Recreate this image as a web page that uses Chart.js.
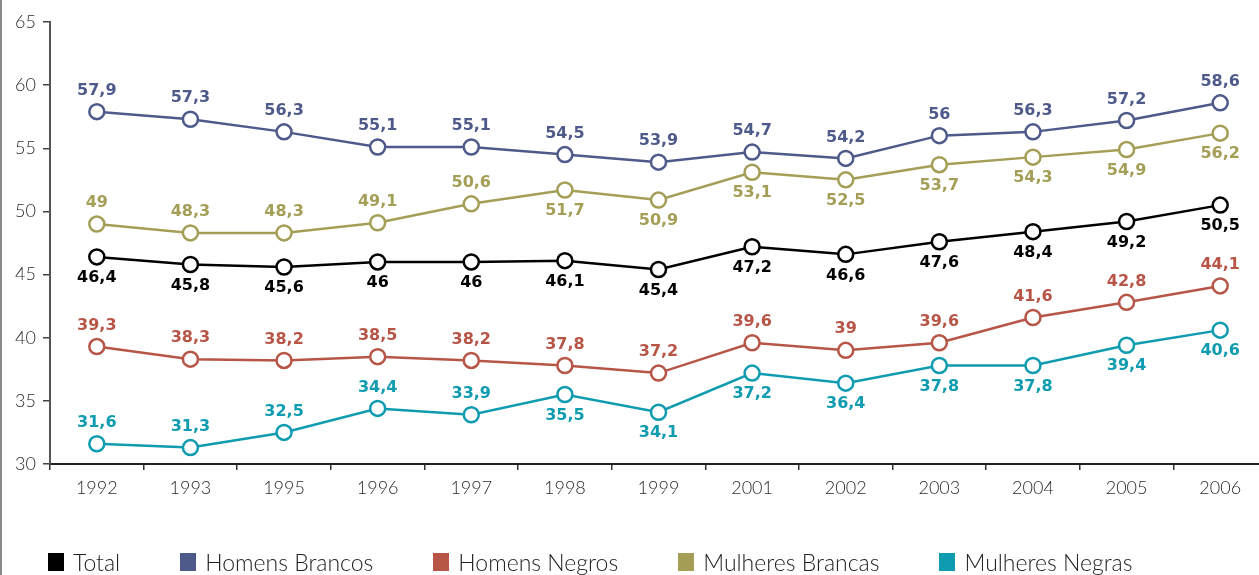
<!DOCTYPE html>
<html>
<head>
<meta charset="utf-8">
<script src="https://cdn.jsdelivr.net/npm/chart.js@4/dist/chart.umd.min.js"></script>
<style>
  html, body { margin: 0; padding: 0; background: #fff; overflow: hidden; }
  #wrap { position: relative; width: 1259px; height: 575px; overflow: hidden; }
  #edge { position: absolute; left: 0; top: 0; width: 2px; height: 575px; background: #8a8a8a; }
  #chart { position: absolute; left: 0; top: 0; }
  #legend { position: absolute; left: 48px; top: 548px; display: flex; font-family: Lato, "DejaVu Sans", sans-serif; font-weight: 300; font-size: 23px; color: #222; white-space: nowrap; }
  #legend .item { display: flex; align-items: flex-start; margin-right: 60px; }
  #legend .sw { width: 16px; height: 18px; margin: 5px 9px 0 0; }
</style>
</head>
<body>
<div id="wrap">
  <canvas id="chart" width="1277" height="575"></canvas>
  <div id="edge"></div>
  <div id="legend"></div>
</div>
<script>
const years = ['1992', '1993', '1995', '1996', '1997', '1998', '1999', '2001', '2002', '2003', '2004', '2005', '2006'];

const total            = [46.4, 45.8, 45.6, 46, 46, 46.1, 45.4, 47.2, 46.6, 47.6, 48.4, 49.2, 50.5];
const homensBrancos    = [57.9, 57.3, 56.3, 55.1, 55.1, 54.5, 53.9, 54.7, 54.2, 56, 56.3, 57.2, 58.6];
const homensNegros     = [39.3, 38.3, 38.2, 38.5, 38.2, 37.8, 37.2, 39.6, 39, 39.6, 41.6, 42.8, 44.1];
const mulheresBrancas  = [49, 48.3, 48.3, 49.1, 50.6, 51.7, 50.9, 53.1, 52.5, 53.7, 54.3, 54.9, 56.2];
const mulheresNegras   = [31.6, 31.3, 32.5, 34.4, 33.9, 35.5, 34.1, 37.2, 36.4, 37.8, 37.8, 39.4, 40.6];

// label side per point: 1 = above, -1 = below
const sideTotal   = years.map(() => -1);
const sideHB      = years.map(() => 1);
const sideHN      = years.map(() => 1);
const sideMB      = [1, 1, 1, 1, 1, -1, -1, -1, -1, -1, -1, -1, -1];
const sideMN      = [1, 1, 1, 1, 1, -1, -1, -1, -1, -1, -1, -1, -1];

const series = [
  { name: 'Total', data: total, color: '#000000', side: sideTotal },
  { name: 'Homens Brancos', data: homensBrancos, color: '#4e5a8a', side: sideHB },
  { name: 'Homens Negros', data: homensNegros, color: '#b75547', side: sideHN },
  { name: 'Mulheres Brancas', data: mulheresBrancas, color: '#a49e57', side: sideMB },
  { name: 'Mulheres Negras', data: mulheresNegras, color: '#0f9bb0', side: sideMN }
];

// html legend
const legendEl = document.getElementById('legend');
series.forEach(s => {
  const item = document.createElement('div');
  item.className = 'item';
  item.innerHTML = `<div class="sw" style="background:${s.color}"></div><span>${s.name}</span>`;
  legendEl.appendChild(item);
});

const valueLabels = {
  id: 'valueLabels',
  afterDatasetsDraw(chart) {
    const ctx = chart.ctx;
    ctx.save();
    ctx.font = 'bold 16px "DejaVu Sans", sans-serif';
    ctx.textAlign = 'center';
    ctx.textBaseline = 'middle';
    chart.data.datasets.forEach((ds, i) => {
      const meta = chart.getDatasetMeta(i);
      ctx.fillStyle = ds.borderColor;
      meta.data.forEach((pt, j) => {
        const txt = String(ds.data[j]).replace('.', ',');
        ctx.fillText(txt, pt.x, pt.y - ds.side[j] * 21);
      });
    });
    ctx.restore();
  }
};

const tickFont = { family: 'Lato, "DejaVu Sans", sans-serif', size: 18, weight: 300 };

new Chart(document.getElementById('chart').getContext('2d'), {
  type: 'line',
  data: {
    labels: years,
    datasets: series.map(s => ({
      label: s.name,
      data: s.data,
      side: s.side,
      borderColor: s.color,
      backgroundColor: '#ffffff',
      borderWidth: 2.5,
      pointRadius: 7.5,
      pointBorderWidth: 2.5,
      pointBackgroundColor: '#ffffff',
      pointBorderColor: s.color,
      tension: 0
    }))
  },
  options: {
    responsive: false,
    animation: false,
    layout: { padding: { top: 22, right: 1, bottom: 71, left: 0 } },
    plugins: { legend: { display: false }, tooltip: { enabled: false } },
    scales: {
      x: {
        offset: true,
        grid: { offset: true, drawOnChartArea: false, drawTicks: true, tickLength: 6, color: '#333', lineWidth: 1.5 },
        border: { display: true, color: '#222', width: 2 },
        ticks: { color: '#2a2a2a', font: tickFont, padding: 7, maxRotation: 0 },
        afterFit(scale) { scale.height = 40; }
      },
      y: {
        min: 30,
        max: 65,
        ticks: { stepSize: 5, color: '#2a2a2a', font: tickFont, padding: 7 },
        grid: { drawOnChartArea: false, drawTicks: true, tickLength: 7, color: '#444', lineWidth: 1.5 },
        border: { display: true, color: '#555', width: 2 },
        afterFit(scale) { scale.width = 50; }
      }
    }
  },
  plugins: [valueLabels]
});
</script>
</body>
</html>
